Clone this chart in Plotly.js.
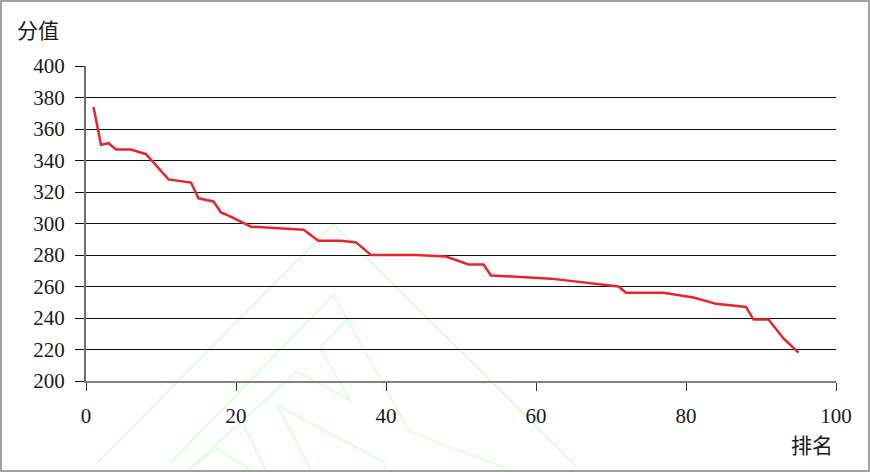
<!DOCTYPE html>
<html>
<head>
<meta charset="utf-8">
<script src="https://cdn.plot.ly/plotly-3.0.1.min.js"></script>
<style>
  html, body { margin: 0; padding: 0; background: #ffffff; }
  #wrap { position: relative; width: 870px; height: 472px; overflow: hidden; background: #fff; }
  #wm { position: absolute; left: 0; top: 0; width: 870px; height: 472px; }
  #chart { position: absolute; left: 0; top: 0; width: 870px; height: 472px; }
  #frame { position: absolute; left: 0; top: 0; width: 870px; height: 472px; box-sizing: border-box; border: 2px solid #a0a0a0; pointer-events: none; }
</style>
</head>
<body>
<div id="wrap">
  <svg id="wm" width="870" height="472" xmlns="http://www.w3.org/2000/svg">
    <g fill="none" stroke="rgb(222,255,222)" stroke-width="2.2" stroke-linejoin="miter">
      <polyline points="96.7,463.3 333.3,224.3 576.7,466.7"/>
      <polyline points="170,463.3 333.3,295 410,431.7 506.7,468.3"/>
      <polyline points="320,348.3 348.3,318.3 353.3,321.7"/>
      <polyline points="320,348.3 350,400 296.7,371.7 190,468.3"/>
      <polyline points="243.3,425 266.7,471.7"/>
      <polyline points="276.7,405 383.3,461.7 386.7,471.7"/>
      <polyline points="276.7,405 311.7,471.7"/>
      <polyline points="190,468.3 216.7,448.3 253.3,471.7"/>
    </g>
  </svg>
  <div id="chart"></div>
  <div id="frame"></div>
</div>
<script>
// Data
var ranks  = [1, 2, 3, 4, 6, 8, 11, 14, 15, 17, 18, 19, 22, 26, 29, 31, 34, 36, 38, 44, 48, 51, 53, 54, 62, 71, 72, 77, 81, 84, 88, 89, 91, 93, 95];
var scores = [374, 350, 351, 347, 347, 344, 328, 326, 316, 314, 307, 305, 298, 297, 296, 289, 289, 288, 280, 280, 279, 274, 274, 267, 265, 260, 256, 256, 253, 249, 247, 239, 239, 227, 218];
var yTitle = "分值";
var xTitle = "排名";

var numFont = { family: "Liberation Serif, DejaVu Serif, serif", size: 21, color: "#1a1a1a" };
var cjkFont = { family: "Noto Sans CJK SC, sans-serif", size: 21, color: "#1a1a1a" };

var trace = {
  x: ranks,
  y: scores,
  type: "scatter",
  mode: "lines",
  line: { color: "#e8262a", width: 2.5 },
  hoverinfo: "x+y"
};

var layout = {
  width: 870,
  height: 472,
  margin: { l: 86, r: 34, t: 66, b: 91, pad: 0 },
  paper_bgcolor: "rgba(0,0,0,0)",
  plot_bgcolor: "rgba(0,0,0,0)",
  showlegend: false,
  xaxis: {
    range: [0, 100],
    tick0: 0,
    dtick: 20,
    ticks: "outside",
    ticklen: 8,
    tickwidth: 1,
    tickcolor: "#333",
    showline: true,
    linecolor: "#808080",
    linewidth: 2,
    showgrid: false,
    zeroline: false,
    tickfont: numFont,
    ticklabelstandoff: 7
  },
  yaxis: {
    range: [200, 400],
    tick0: 200,
    dtick: 20,
    ticks: "outside",
    ticklen: 9,
    tickwidth: 1,
    tickcolor: "#111",
    showline: true,
    linecolor: "#707070",
    linewidth: 2,
    showgrid: true,
    gridcolor: "#111",
    gridwidth: 1,
    zeroline: false,
    tickfont: numFont,
    ticklabelstandoff: 6
  },
  annotations: [
    { text: yTitle, xref: "paper", yref: "paper", x: -0.0947, y: 1.1175, xanchor: "left", yanchor: "middle", showarrow: false, font: cjkFont },
    { text: xTitle, xref: "paper", yref: "paper", x: 0.9987, y: -0.2, xanchor: "right", yanchor: "middle", showarrow: false, font: cjkFont }
  ]
};

Plotly.newPlot("chart", [trace], layout, { displayModeBar: false, staticPlot: true });
</script>
</body>
</html>
